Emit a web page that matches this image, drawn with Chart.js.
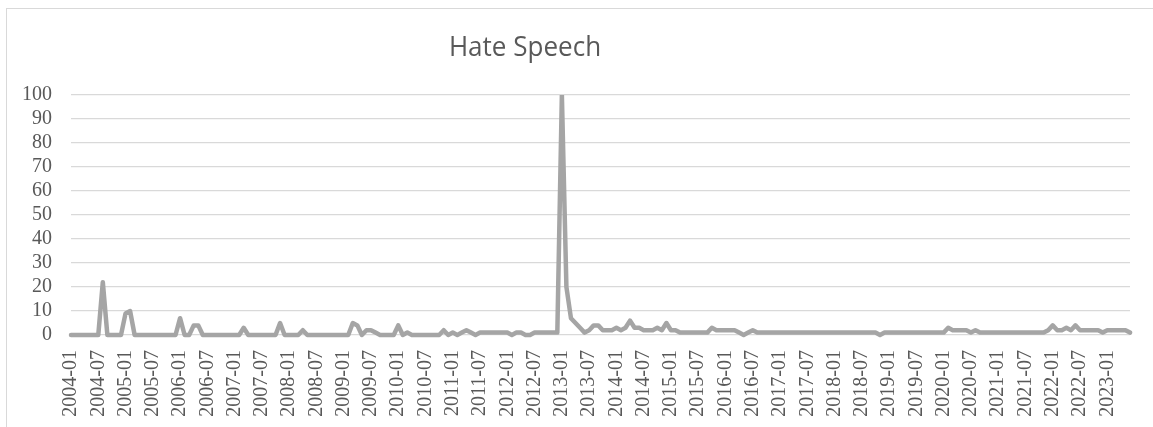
<!DOCTYPE html>
<html>
<head>
<meta charset="utf-8">
<script src="https://cdn.jsdelivr.net/npm/chart.js@4.4.1/dist/chart.umd.min.js"></script>
<style>
    html, body { margin: 0; padding: 0; background: #fff; overflow: hidden; }
    #wrap { position: relative; width: 1153px; height: 427px; }
    #frame {
        position: absolute; left: 6px; top: 8px;
        width: 1300px; height: 600px;
        border: 1px solid #d9d9d9; box-sizing: border-box;
    }
    #chart { position: absolute; left: 0; top: 0; }
</style>
</head>
<body>
<div id="wrap">
    <div id="frame"></div>
    <canvas id="chart" width="1153" height="427"></canvas>
</div>
<script>
// --- Data (monthly, 2004-01 .. 2023-06) ---
const chartTitle = 'Hate Speech';
const years = [2004, 2005, 2006, 2007, 2008, 2009, 2010, 2011, 2012, 2013,
    2014, 2015, 2016, 2017, 2018, 2019, 2020, 2021, 2022, 2023];
const lastMonth = 6; // data stops at 2023-06

const values = [
    0, 0, 0, 0, 0, 0, 0, 22, 0, 0, 0, 0,      // 2004
    9, 10, 0, 0, 0, 0, 0, 0, 0, 0, 0, 0,      // 2005
    7, 0, 0, 4, 4, 0, 0, 0, 0, 0, 0, 0,       // 2006
    0, 0, 3, 0, 0, 0, 0, 0, 0, 0, 5, 0,       // 2007
    0, 0, 0, 2, 0, 0, 0, 0, 0, 0, 0, 0,       // 2008
    0, 0, 5, 4, 0, 2, 2, 1, 0, 0, 0, 0,       // 2009
    4, 0, 1, 0, 0, 0, 0, 0, 0, 0, 2, 0,       // 2010
    1, 0, 1, 2, 1, 0, 1, 1, 1, 1, 1, 1,       // 2011
    1, 0, 1, 1, 0, 0, 1, 1, 1, 1, 1, 1,       // 2012
    100, 20, 7, 5, 3, 1, 2, 4, 4, 2, 2, 2,    // 2013
    3, 2, 3, 6, 3, 3, 2, 2, 2, 3, 2, 5,       // 2014
    2, 2, 1, 1, 1, 1, 1, 1, 1, 3, 2, 2,       // 2015
    2, 2, 2, 1, 0, 1, 2, 1, 1, 1, 1, 1,       // 2016
    1, 1, 1, 1, 1, 1, 1, 1, 1, 1, 1, 1,       // 2017
    1, 1, 1, 1, 1, 1, 1, 1, 1, 1, 0, 1,       // 2018
    1, 1, 1, 1, 1, 1, 1, 1, 1, 1, 1, 1,       // 2019
    1, 3, 2, 2, 2, 2, 1, 2, 1, 1, 1, 1,       // 2020
    1, 1, 1, 1, 1, 1, 1, 1, 1, 1, 1, 2,       // 2021
    4, 2, 2, 3, 2, 4, 2, 2, 2, 2, 2, 1,       // 2022
    2, 2, 2, 2, 2, 1                          // 2023
];

const yTicks = [0, 10, 20, 30, 40, 50, 60, 70, 80, 90, 100];
const labelEvery = 6; // Excel shows every 6th category

// Build the month categories
const months = [];
years.forEach(y => {
    const n = (y === years[years.length - 1]) ? lastMonth : 12;
    for (let m = 1; m <= n; m++) {
        months.push(`${y}-${String(m).padStart(2, '0')}`);
    }
});

// Title drawn by hand so it sits where Excel put it
const titlePlugin = {
    id: 'excelTitle',
    afterDraw(chart) {
        const c = chart.ctx;
        c.save();
        c.translate(525, 48);
        c.scale(0.93, 1);
        c.font = '28px "Open Sans", sans-serif';
        c.fillStyle = '#595959';
        c.textAlign = 'center';
        c.textBaseline = 'middle';
        c.fillText(chartTitle, 0, 0);
        c.restore();
    }
};

const ctx = document.getElementById('chart').getContext('2d');

const chart = new Chart(ctx, {
    type: 'line',
    data: {
        labels: months,
        datasets: [{
            label: chartTitle,
            data: values,
            borderColor: '#a5a5a5',
            borderWidth: 4.5,
            borderJoinStyle: 'round',
            borderCapStyle: 'round',
            tension: 0,
            pointRadius: 0,
            fill: false,
            clip: { left: 3, top: 0, right: 3, bottom: 5 }
        }]
    },
    options: {
        responsive: false,
        animation: false,
        devicePixelRatio: 1,
        layout: {
            padding: { top: 95, right: 23, bottom: 0, left: 0 }
        },
        plugins: {
            legend: { display: false },
            title: { display: false },
            tooltip: { enabled: false }
        },
        scales: {
            x: {
                grid: { display: false, drawTicks: false },
                border: { display: false },
                afterFit: scale => {
                    scale.height = 92;
                    scale.paddingLeft = 0;
                    scale.paddingRight = 0;
                },
                ticks: {
                    autoSkip: false,
                    minRotation: 90,
                    maxRotation: 90,
                    padding: 15,
                    color: '#595959',
                    font: { family: '"Liberation Serif", "Times New Roman", serif', size: 20 },
                    callback: (val, i) => (i % labelEvery === 0 ? months[i] : '')
                }
            },
            y: {
                min: yTicks[0],
                max: yTicks[yTicks.length - 1],
                afterFit: scale => { scale.width = 71; },
                afterBuildTicks: scale => { scale.ticks = yTicks.map(v => ({ value: v })); },
                grid: { color: '#d9d9d9', lineWidth: 1.3, drawTicks: false },
                border: { display: false },
                ticks: {
                    autoSkip: false,
                    padding: 19,
                    color: '#595959',
                    font: { family: '"Liberation Serif", "Times New Roman", serif', size: 20 }
                }
            }
        }
    },
    plugins: [titlePlugin]
});
</script>
</body>
</html>
